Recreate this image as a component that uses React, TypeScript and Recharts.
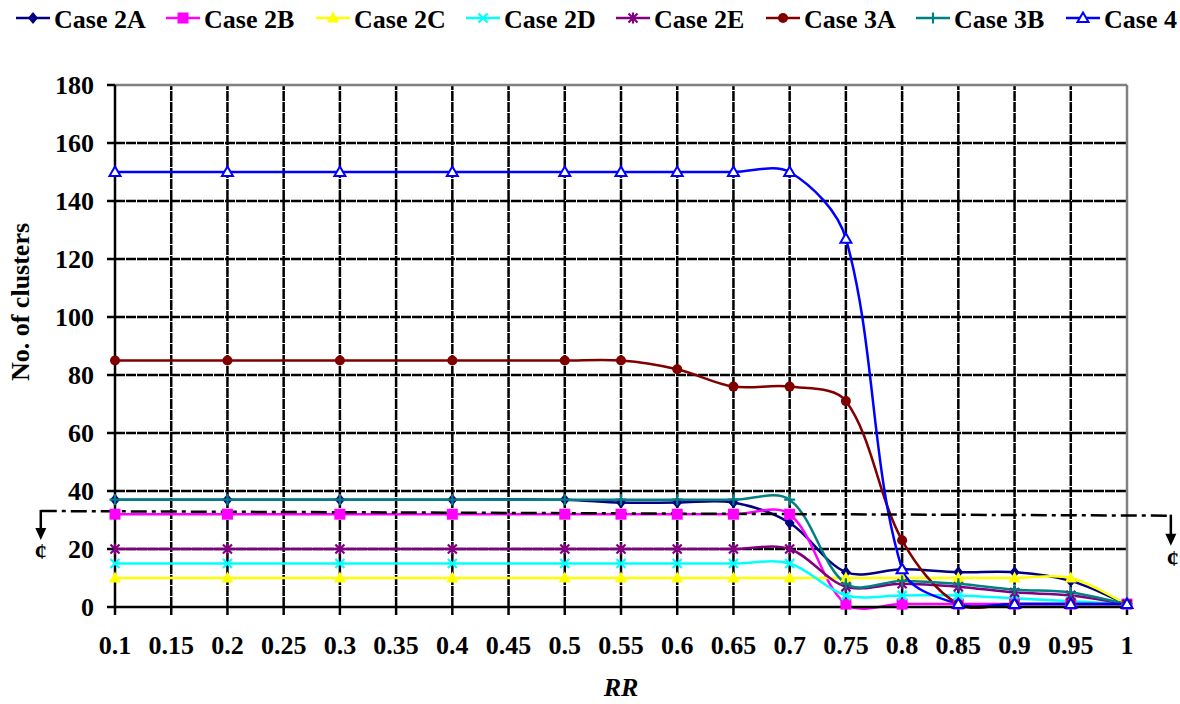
import React from "react";
import { LineChart, Line, XAxis, YAxis, ReferenceLine } from "recharts";

// RR values where each case was measured
const rr = [0.1, 0.2, 0.3, 0.4, 0.5, 0.55, 0.6, 0.65, 0.7, 0.75, 0.8, 0.85, 0.9, 0.95, 1];

const case2A = [37, 37, 37, 37, 37, 36, 36, 36, 29, 12, 13, 12, 12, 9, 1];
const case2B = [32, 32, 32, 32, 32, 32, 32, 32, 32, 1, 1, 1, 1, 1, 1];
const case2C = [10, 10, 10, 10, 10, 10, 10, 10, 10, 10, 10, 10, 10, 10, 1];
const case2D = [15, 15, 15, 15, 15, 15, 15, 15, 15, 4, 4, 4, 3, 2, 1];
const case2E = [20, 20, 20, 20, 20, 20, 20, 20, 20, 7, 8, 7, 5, 4, 1];
const case3A = [85, 85, 85, 85, 85, 85, 82, 76, 76, 71, 23, 1, 1, 1, 1];
const case3B = [37, 37, 37, 37, 37, 37, 37, 37, 37, 8, 9, 8, 6, 5, 1];
const case4 = [150, 150, 150, 150, 150, 150, 150, 150, 150, 127, 13, 1, 1, 1, 1];

const xTicks = [0.1, 0.15, 0.2, 0.25, 0.3, 0.35, 0.4, 0.45, 0.5, 0.55, 0.6, 0.65, 0.7, 0.75, 0.8, 0.85, 0.9, 0.95, 1];
const yTicks = [0, 20, 40, 60, 80, 100, 120, 140, 160, 180];

// dash-dot threshold line (extends past both ends of the plot)
const threshold = [
  { x: 0.034, y: 33.1 },
  { x: 1.039, y: 31.5 },
];

const series = [
  { key: "case2A", name: "Case 2A", values: case2A, color: "#000080", shape: "diamond" },
  { key: "case2B", name: "Case 2B", values: case2B, color: "#FF00FF", shape: "square" },
  { key: "case2C", name: "Case 2C", values: case2C, color: "#FFFF00", shape: "triangle" },
  { key: "case2D", name: "Case 2D", values: case2D, color: "#00FFFF", shape: "x" },
  { key: "case2E", name: "Case 2E", values: case2E, color: "#800080", shape: "star" },
  { key: "case3A", name: "Case 3A", values: case3A, color: "#800000", shape: "circle" },
  { key: "case3B", name: "Case 3B", values: case3B, color: "#008080", shape: "plus" },
  { key: "case4", name: "Case 4", values: case4, color: "#0000FF", shape: "triangleOpen" },
];

const data = rr.map((r, i) => {
  const row: Record<string, number> = { rr: r };
  series.forEach((s) => (row[s.key] = s.values[i]));
  return row;
});

const FONT = "'Liberation Serif', 'Times New Roman', serif";

// Excel-style smoothed line: chord-length weighted Catmull-Rom beziers
function excelSmooth(context: any) {
  let pts: [number, number][] = [];
  const dist = (a: [number, number], b: [number, number]) => Math.hypot(b[0] - a[0], b[1] - a[1]);
  return {
    areaStart() {},
    areaEnd() {},
    lineStart() {
      pts = [];
    },
    lineEnd() {
      const n = pts.length;
      if (!n) return;
      context.moveTo(pts[0][0], pts[0][1]);
      for (let i = 0; i < n - 1; i++) {
        const p0 = pts[i - 1] || pts[i];
        const p1 = pts[i];
        const p2 = pts[i + 1];
        const p3 = pts[i + 2] || p2;
        const d01 = dist(p0, p1);
        const d12 = dist(p1, p2);
        const d23 = dist(p2, p3);
        const f1 = d01 + d12 > 0 ? d12 / (d01 + d12) / 3 : 0;
        const f2 = d12 + d23 > 0 ? d12 / (d12 + d23) / 3 : 0;
        context.bezierCurveTo(
          p1[0] + (p2[0] - p0[0]) * f1,
          p1[1] + (p2[1] - p0[1]) * f1,
          p2[0] - (p3[0] - p1[0]) * f2,
          p2[1] - (p3[1] - p1[1]) * f2,
          p2[0],
          p2[1]
        );
      }
    },
    point(x: number, y: number) {
      pts.push([x, y]);
    },
  };
}

function Marker({ shape, color, cx, cy }: { shape: string; color: string; cx: number; cy: number }) {
  switch (shape) {
    case "diamond":
      return <polygon points={`${cx},${cy - 6} ${cx + 5},${cy} ${cx},${cy + 6} ${cx - 5},${cy}`} fill={color} />;
    case "square":
      return <rect x={cx - 5.5} y={cy - 5.5} width={11} height={11} fill={color} />;
    case "triangle":
      return <polygon points={`${cx},${cy - 6.5} ${cx + 6},${cy + 4.5} ${cx - 6},${cy + 4.5}`} fill={color} />;
    case "x":
      return (
        <path d={`M${cx - 4.5},${cy - 4.5}L${cx + 4.5},${cy + 4.5}M${cx - 4.5},${cy + 4.5}L${cx + 4.5},${cy - 4.5}`} stroke={color} strokeWidth={2.2} />
      );
    case "star":
      return (
        <path
          d={`M${cx - 4.5},${cy - 4.5}L${cx + 4.5},${cy + 4.5}M${cx - 4.5},${cy + 4.5}L${cx + 4.5},${cy - 4.5}M${cx},${cy - 5.5}L${cx},${cy + 5.5}`}
          stroke={color}
          strokeWidth={2.2}
        />
      );
    case "circle":
      return <circle cx={cx} cy={cy} r={5} fill={color} />;
    case "plus":
      return <path d={`M${cx - 5.5},${cy}L${cx + 5.5},${cy}M${cx},${cy - 5.5}L${cx},${cy + 5.5}`} stroke={color} strokeWidth={2.2} />;
    default:
      return (
        <polygon
          points={`${cx},${cy - 5.5} ${cx + 5.5},${cy + 4} ${cx - 5.5},${cy + 4}`}
          fill="#fff"
          stroke={color}
          strokeWidth={2}
        />
      );
  }
}

function ThresholdShape(props: any) {
  const { x1, y1, x2, y2 } = props;
  return (
    <g>
      <line x1={x1} y1={y1} x2={x2} y2={y2} stroke="#000" strokeWidth={2.5} strokeDasharray="16 5 4 5" />
      <line x1={x1} y1={y1 - 1} x2={x1} y2={y1 + 18} stroke="#000" strokeWidth={2.5} />
      <polygon points={`${x1 - 5.5},${y1 + 17} ${x1 + 5.5},${y1 + 17} ${x1},${y1 + 29}`} fill="#000" />
      <text x={x1} y={y1 + 48} textAnchor="middle" fontFamily={FONT} fontWeight="bold" fontSize={24} fill="#000">
        ¢
      </text>
      <line x1={x2} y1={y2 - 1} x2={x2} y2={y2 + 19} stroke="#000" strokeWidth={2.5} />
      <polygon points={`${x2 - 5.5},${y2 + 18} ${x2 + 5.5},${y2 + 18} ${x2},${y2 + 30}`} fill="#000" />
      <text x={x2 + 2} y={y2 + 50} textAnchor="middle" fontFamily={FONT} fontWeight="bold" fontSize={24} fill="#000">
        ¢
      </text>
    </g>
  );
}

function YLabel() {
  return (
    <text
      x={29}
      y={302}
      transform="rotate(-90, 29, 302)"
      textAnchor="middle"
      fontFamily={FONT}
      fontWeight="bold"
      fontSize={26}
      fill="#000"
    >
      No. of clusters
    </text>
  );
}

function LegendBar() {
  return (
    <svg width={1180} height={40} style={{ position: "absolute", left: 0, top: 0 }}>
      {series.map((s, i) => {
        const x0 = 16 + i * 150;
        return (
          <g key={s.key}>
            <line x1={x0} y1={18} x2={x0 + 34} y2={18} stroke={s.color} strokeWidth={2.5} />
            <Marker shape={s.shape} color={s.color} cx={x0 + 17} cy={18} />
            <text x={x0 + 38} y={28} fontFamily={FONT} fontWeight="bold" fontSize={26} fill="#000">
              {s.name}
            </text>
          </g>
        );
      })}
    </svg>
  );
}

const tickStyle = { fill: "#000", fontSize: 26, fontWeight: "bold", fontFamily: FONT };
const gridY = yTicks.slice(1, -1);
const gridX = xTicks.slice(1, -1);

export default function App() {
  return (
    <div style={{ position: "absolute", left: 0, top: 0, width: 1180, height: 704, background: "#fff" }}>
      <LineChart width={1180} height={704} data={data} margin={{ top: 85, right: 53, bottom: 0, left: 0 }}>
        <XAxis
          dataKey="rr"
          type="number"
          domain={[0.1, 1]}
          ticks={xTicks}
          interval={0}
          height={97}
          tickSize={8}
          tickMargin={21}
          tick={tickStyle}
          axisLine={{ stroke: "#000", strokeWidth: 2.5 }}
          tickLine={{ stroke: "#000", strokeWidth: 2.5 }}
          label={{
            value: "RR",
            position: "insideBottom",
            offset: 8,
            fill: "#000",
            fontSize: 26,
            fontWeight: "bold",
            fontStyle: "italic",
            fontFamily: FONT,
          }}
        />
        <YAxis
          type="number"
          domain={[0, 180]}
          ticks={yTicks}
          interval={0}
          width={115}
          tickSize={8}
          tickMargin={13}
          tick={tickStyle}
          axisLine={{ stroke: "#000", strokeWidth: 2.5 }}
          tickLine={{ stroke: "#000", strokeWidth: 2.5 }}
          label={{ content: () => <YLabel /> }}
        />
        {gridY.map((v) => (
          <ReferenceLine key={`gy-${v}`} y={v} stroke="#000" strokeWidth={2.5} strokeDasharray="10 1" />
        ))}
        {gridX.map((v) => (
          <ReferenceLine key={`gx-${v}`} x={v} stroke="#000" strokeWidth={2.5} strokeDasharray="10 1" />
        ))}
        <ReferenceLine y={180} stroke="#808080" strokeWidth={2.5} />
        <ReferenceLine x={1} stroke="#808080" strokeWidth={2.5} />
        {series.map((s) => (
          <Line
            key={s.key}
            dataKey={s.key}
            type={excelSmooth as any}
            stroke={s.color}
            strokeWidth={2.5}
            dot={(p: any) => <Marker key={`${s.key}-${p.index}`} shape={s.shape} color={s.color} cx={p.cx} cy={p.cy} />}
            activeDot={false}
            isAnimationActive={false}
          />
        ))}
        <ReferenceLine segment={threshold} ifOverflow="visible" shape={ThresholdShape} />
      </LineChart>
      <LegendBar />
    </div>
  );
}
